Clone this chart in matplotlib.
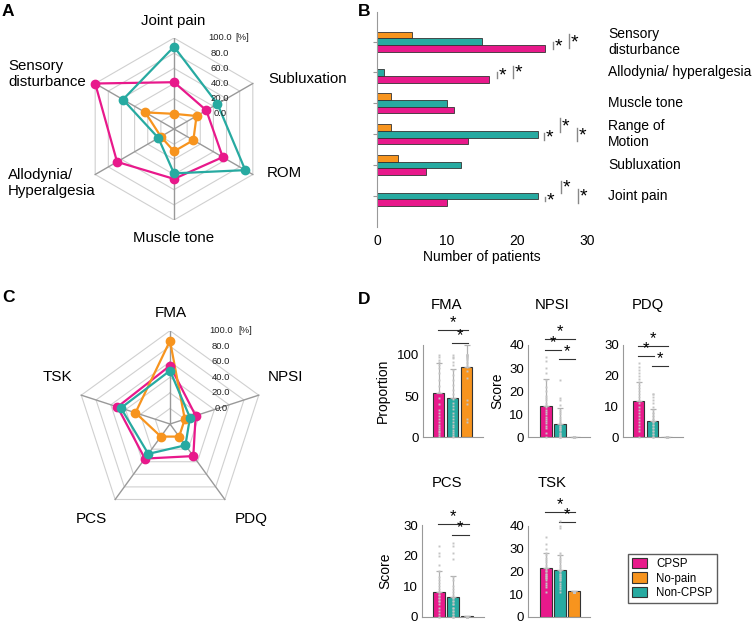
import numpy as np
import matplotlib
matplotlib.use('Agg')
import matplotlib.pyplot as plt
from matplotlib.patches import Patch

plt.rcParams['font.family'] = ['Liberation Sans', 'DejaVu Sans']

W, H = 755, 625
PINK = '#e8198b'
TEAL = '#27aaa1'
ORANGE = '#f7941e'
EDGE = '#333333'

# ---- data ----
# A: symptoms (% of patients), clockwise from top
a_labels = ['Joint pain', 'Subluxation', 'ROM', 'Muscle tone',
            'Allodynia/\nHyperalgesia', 'Sensory\ndisturbance']
a_cpsp = [41.7, 29.2, 54.2, 45.8, 66.7, 100.0]
a_nopain = [0.0, 14.3, 9.5, 9.5, 0.0, 23.8]
a_noncpsp = [88.5, 46.2, 88.5, 38.5, 3.8, 57.7]

# B: number of patients, bottom to top
b_categories = ['Joint pain', 'Subluxation', 'Range of\nMotion', 'Muscle tone',
                'Allodynia/ hyperalgesia', 'Sensory\ndisturbance']
b_cpsp = [10, 7, 13, 11, 16, 24]
b_nopain = [0, 3, 2, 2, 0, 5]
b_noncpsp = [23, 12, 23, 10, 1, 15]

# C: scales (% of max)
c_labels = ['FMA', 'NPSI', 'PDQ', 'PCS', 'TSK']
c_cpsp = [55.0, 14.7, 31.0, 35.0, 51.0]
c_nopain = [87.0, 0.0, 0.0, 0.0, 26.7]
c_noncpsp = [48.6, 7.0, 13.8, 27.5, 46.4]
radar_ticks = [0, 20, 40, 60, 80, 100]

# D: means, SDs and individual scores (bar order CPSP, Non-CPSP, No-pain)
d_titles = ['FMA', 'NPSI', 'PDQ', 'PCS', 'TSK']
d_ylabels = ['Proportion', 'Score', '', 'Score', '']
d_mean_cpsp = [54, 13.6, 11.9, 8.2, 21.3]
d_mean_noncpsp = [48, 5.7, 5.2, 6.5, 20.4]
d_mean_nopain = [86, 0.1, 0.1, 0.1, 11.2]
d_sd_cpsp = [36, 11.5, 6.1, 6.7, 6.7]
d_sd_noncpsp = [35, 6.9, 4.0, 6.8, 6.9]
d_sd_nopain = [26, 0, 0, 0, 0.3]
d_ymax = [112, 40, 30, 30, 40]
d_yticks = [[0, 50, 100], [0, 10, 20, 30, 40], [0, 10, 20, 30], [0, 10, 20, 30], [0, 10, 20, 30, 40]]

pts_cpsp = [
    [2, 4, 6, 8, 10, 12, 15, 18, 22, 26, 30, 33, 40, 48, 55, 62, 70, 78, 84, 88, 91, 94, 97, 100],
    [0, 2, 4, 5, 6, 7, 8, 9, 10, 11, 12, 13, 14, 15, 16, 17, 18, 20, 22, 25, 28, 30, 33, 35],
    [0, 2, 3, 4, 5, 6, 7, 8, 9, 10, 11, 12, 13, 14, 15, 16, 17, 18, 19, 20, 21, 22, 23, 24],
    [0, 0, 1, 2, 3, 4, 5, 5, 6, 6, 7, 7, 8, 8, 9, 10, 11, 12, 13, 15, 17, 20, 21, 23],
    [11, 13, 14, 15, 16, 17, 17, 18, 18, 19, 19, 20, 20, 21, 22, 23, 24, 25, 26, 27, 28, 30, 32, 35],
]
pts_noncpsp = [
    [0, 2, 4, 6, 9, 12, 15, 18, 22, 26, 30, 34, 38, 42, 46, 52, 58, 64, 70, 76, 82, 88, 92, 96, 98, 100],
    [0, 0, 0, 0, 1, 1, 2, 2, 3, 3, 4, 4, 5, 5, 6, 6, 7, 8, 9, 10, 11, 12, 14, 16, 17, 25],
    [0, 0, 0, 1, 1, 2, 2, 3, 3, 4, 4, 5, 5, 6, 6, 7, 7, 8, 8, 9, 10, 11, 12, 13, 14, 14],
    [0, 0, 0, 0, 1, 1, 2, 2, 3, 3, 4, 4, 5, 5, 6, 6, 7, 8, 9, 10, 12, 13, 19, 21, 23, 24],
    [11, 12, 13, 14, 15, 16, 16, 17, 17, 18, 18, 19, 19, 20, 20, 21, 22, 23, 24, 25, 26, 27, 28, 39, 40, 42],
]
pts_nopain = [
    [18, 22, 40, 45, 72, 80, 86, 88, 90, 92, 94, 95, 96, 97, 98, 99, 100, 100, 100, 100, 100],
    [0] * 21, [0] * 21, [0] * 21, [11] * 21,
]

# significance: (bar i, bar j, height)
d_sig = [
    [(0, 2, 130), (1, 2, 114)],
    [(0, 2, 42.4), (0, 1, 37.8), (1, 2, 33.8)],
    [(0, 2, 29.7), (0, 1, 26.4), (1, 2, 23.2)],
    [(0, 2, 30.3), (1, 2, 26.7)],
    [(0, 2, 46.3), (1, 2, 41.9)],
]
# B significance: (category, x, y from, y to)
b_sig = [(5, 25.2, -0.24, -0.02), (5, 27.5, -0.21, 0.24),
         (4, 17.1, -0.18, 0.03), (4, 19.4, -0.18, 0.22),
         (2, 23.9, -0.20, 0.03), (2, 26.2, 0.06, 0.53), (2, 28.6, -0.23, 0.21),
         (0, 24.0, -0.18, -0.04), (0, 26.3, 0.09, 0.49), (0, 28.7, -0.22, 0.22)]


def rect(x0, y0, x1, y1):
    return [x0 / W, 1 - y1 / H, (x1 - x0) / W, (y1 - y0) / H]


def ftext(x, y, s, **kw):
    fig.text(x / W, 1 - y / H, s, **kw)


def radar(ax, n, series, lab_x, lab100_x, rmin=-20, rmax=100):
    ang = np.arange(n) * 2 * np.pi / n

    def xy(vals):
        r = (np.asarray(vals, float) - rmin) / (rmax - rmin)
        return r * np.sin(ang), r * np.cos(ang)

    for t in radar_ticks:
        x, y = xy([t] * n)
        ax.plot(np.r_[x, x[0]], np.r_[y, y[0]], color='#d0d0d0', lw=0.8, zorder=1)
    for a in ang:
        ax.plot([0, np.sin(a)], [0, np.cos(a)], color='#999999', lw=1.0, zorder=1)
    for vals, c in series:
        x, y = xy(vals)
        ax.plot(np.r_[x, x[0]], np.r_[y, y[0]], color=c, lw=1.6, zorder=3)
        ax.plot(x, y, 'o', color=c, ms=6, zorder=4)
    for t in radar_ticks:
        r = (t - rmin) / (rmax - rmin)
        ax.text(lab_x, r, f'{t:.1f}', ha='center', va='center', fontsize=6.8,
                color='#222222', clip_on=False)
    ax.text(lab100_x, 1.0, '[%]', ha='center', va='center', fontsize=6.8,
            color='#222222', clip_on=False)
    ax.set_xlim(-1, 1)
    ax.set_ylim(-1, 1)
    ax.set_aspect('equal')
    ax.axis('off')


fig = plt.figure(figsize=(W / 100, H / 100), dpi=100)

# ---- A ----
axa = fig.add_axes(rect(83, 38, 265, 220))
radar(axa, 6, [(a_cpsp, PINK), (a_nopain, ORANGE), (a_noncpsp, TEAL)], 0.505, 0.75)
for (x, y, ha), s in zip([(173, 21, 'center'), (268, 79, 'left'), (267, 173, 'left'),
                          (174, 238, 'center'), (8, 183, 'left'), (8, 74, 'left')], a_labels):
    ftext(x, y, s, ha=ha, va='center', fontsize=10.8, linespacing=1.25)

# ---- B ----
axb = fig.add_axes(rect(377.3, 11.7, 586.7, 226.7))
yb = np.arange(len(b_categories))
h = 0.217
axb.barh(yb + h, b_nopain, h, color=ORANGE, edgecolor=EDGE, lw=0.6)
axb.barh(yb, b_noncpsp, h, color=TEAL, edgecolor=EDGE, lw=0.6)
axb.barh(yb - h, b_cpsp, h, color=PINK, edgecolor=EDGE, lw=0.6)
axb.set_xlim(0, 30)
axb.set_ylim(-1, 5.97)
axb.set_xticks([0, 10, 20, 30])
axb.set_yticks(yb)
axb.set_yticklabels([])
axb.tick_params(axis='x', length=0, labelsize=10, pad=5)
axb.tick_params(axis='y', length=3, color='#999999', direction='out')
for sp in ['top', 'right', 'bottom']:
    axb.spines[sp].set_visible(False)
axb.spines['left'].set_color('#999999')
axb.set_xlabel('Number of patients', fontsize=10, labelpad=2)
for yi, s in zip(yb, b_categories):
    axb.text(33.1, yi, s, ha='left', va='center', fontsize=10, linespacing=1.2, clip_on=False)
for cat, x, lo, hi in b_sig:
    axb.plot([x, x], [cat + lo, cat + hi], color='#888888', lw=1.0, clip_on=False)
    axb.text(x + 0.25, cat + (lo + hi) / 2 - 0.05, '*', ha='left', va='center',
             fontsize=14, clip_on=False)

# ---- C ----
axc = fig.add_axes(rect(76.7, 330.7, 263.3, 517.3))
radar(axc, 5, [(c_cpsp, PINK), (c_nopain, ORANGE), (c_noncpsp, TEAL)], 0.547, 0.81)
for (x, y, ha), s in zip([(171, 313, 'center'), (268, 377, 'left'), (235, 519, 'left'),
                          (91, 519, 'center'), (43, 377, 'left')], c_labels):
    ftext(x, y, s, ha=ha, va='center', fontsize=11)

# ---- D ----
d_rects = [(423.3, 345.1, 482.7, 437.3), (528.3, 345.0, 590.0, 437.3),
           (623.3, 345.0, 682.7, 437.3), (422.0, 525.0, 484.0, 616.7),
           (528.3, 526.0, 590.0, 616.7)]
d_xlims = [(-1.09, 3.15), (-1.25, 3.16), (-1.09, 3.15), (-1.21, 3.22), (-1.25, 3.16)]
d_title_pos = [(447, 305), (551.7, 305), (648, 305), (447, 483), (551.7, 483)]
d_ylab_x = [383, 497, None, 385, None]
xpos = np.arange(3)
for k in range(5):
    ax = fig.add_axes(rect(*d_rects[k]))
    means = [d_mean_cpsp[k], d_mean_noncpsp[k], d_mean_nopain[k]]
    sds = [d_sd_cpsp[k], d_sd_noncpsp[k], d_sd_nopain[k]]
    ax.bar(xpos, means, 0.83, color=[PINK, TEAL, ORANGE], edgecolor=EDGE, lw=0.8, zorder=2)
    ax.errorbar(xpos, means, yerr=[[0, 0, 0], sds], fmt='none', ecolor='#b0b0b0',
                elinewidth=0.9, capsize=2.5, capthick=0.9, zorder=3, clip_on=False)
    for xi, pts in zip(xpos, [pts_cpsp[k], pts_noncpsp[k], pts_nopain[k]]):
        ax.plot([xi] * len(pts), pts, 's', ms=1.4, color='#c4c4c4', mec='none',
                zorder=4, clip_on=False)
    for i, j, hgt in d_sig[k]:
        ax.plot([i - 0.05, j + 0.12], [hgt, hgt], color='#333333', lw=0.8, clip_on=False)
        ax.text((i + j) / 2 + 0.03, hgt, '*', ha='center', va='bottom', fontsize=12,
                clip_on=False)
    ax.set_xlim(*d_xlims[k])
    ax.set_ylim(0, d_ymax[k])
    ax.set_yticks(d_yticks[k])
    ax.set_xticks([])
    ax.tick_params(axis='y', length=0, labelsize=9.5, pad=3)
    for sp in ['top', 'right']:
        ax.spines[sp].set_visible(False)
    for sp in ['left', 'bottom']:
        ax.spines[sp].set_color('#999999')
    tx, ty = d_title_pos[k]
    ftext(tx, ty, d_titles[k], ha='center', va='center', fontsize=10.7)
    if d_ylab_x[k] is not None:
        ftext(d_ylab_x[k], (d_rects[k][1] + d_rects[k][3]) / 2, d_ylabels[k],
              ha='center', va='center', rotation=90, fontsize=10)

handles = [Patch(facecolor=c, edgecolor=EDGE, lw=0.8) for c in [PINK, ORANGE, TEAL]]
fig.legend(handles, ['CPSP', 'No-pain', 'Non-CPSP'], loc='upper left',
           bbox_to_anchor=(628 / W, 1 - 554 / H), frameon=True, fancybox=False,
           edgecolor='#333333', fontsize=8.3, handlelength=1.3, handleheight=1.0,
           borderpad=0.35, labelspacing=0.2, handletextpad=0.8, borderaxespad=0)

# panel letters
for s, x, y in [('A', 2, 11), ('B', 358, 11), ('C', 2, 298), ('D', 358, 300)]:
    ftext(x, y, s, ha='left', va='center', fontsize=12.5, fontweight='bold')

fig.savefig('out.png', dpi=100)
